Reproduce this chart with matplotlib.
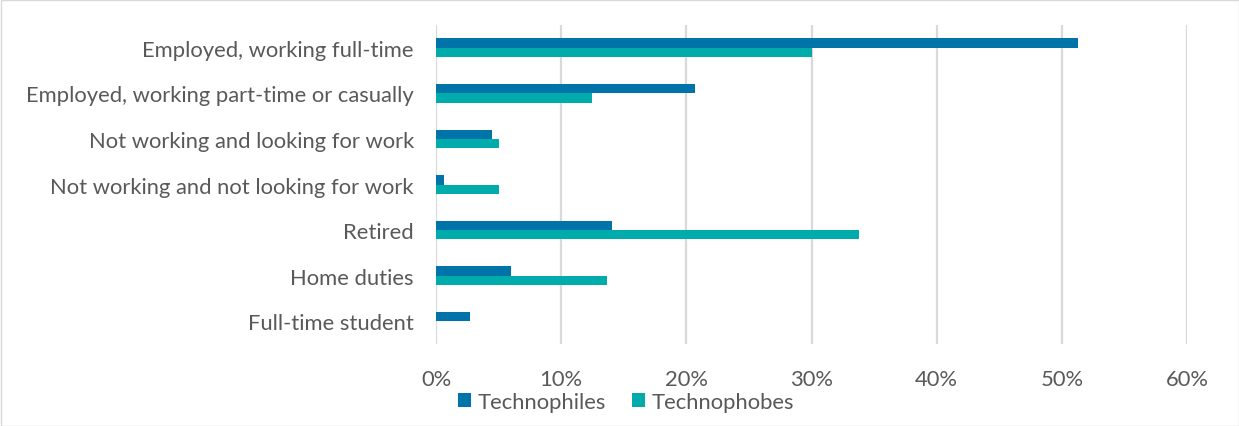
import numpy as np
import matplotlib
matplotlib.use("Agg")
import matplotlib.pyplot as plt
from matplotlib.patches import Rectangle
from matplotlib.ticker import FuncFormatter

plt.rcParams['font.family'] = ['Lato', 'DejaVu Sans']

# Data
categories = [
    "Employed, working full-time",
    "Employed, working part-time or casually",
    "Not working and looking for work",
    "Not working and not looking for work",
    "Retired",
    "Home duties",
    "Full-time student",
]
technophiles = [51.3, 20.7, 4.5, 0.6, 14.1, 6.0, 2.7]
technophobes = [30.0, 12.5, 5.0, 5.0, 33.8, 13.7, 0.0]
xticks = [0, 10, 20, 30, 40, 50, 60]

c_philes = '#0073A8'
c_phobes = '#00ABAB'
text_col = '#595959'

fig = plt.figure(figsize=(12.39, 4.27), dpi=100)
ax = fig.add_axes([436 / 1239, 1 - 345 / 427, (1187 - 436) / 1239, 319 / 427])

y = np.arange(len(categories))
h = 0.205
ax.barh(y - h / 2, technophiles, height=h, color=c_philes, label='Technophiles', zorder=3)
ax.barh(y + h / 2, technophobes, height=h, color=c_phobes, label='Technophobes', zorder=3)

ax.set_xlim(0, 60)
ax.set_ylim(len(categories) - 0.5, -0.5)
ax.set_xticks(xticks)
ax.xaxis.set_major_formatter(FuncFormatter(lambda v, p: f"{v:.0f}%"))
ax.set_yticks(y)
ax.set_yticklabels(categories)
ax.tick_params(axis='both', length=0, labelsize=15.8, colors=text_col)
ax.tick_params(axis='y', pad=16)
ax.tick_params(axis='x', pad=18)
ax.grid(axis='x', color='#D9D9D9', linewidth=1.6, zorder=0)
for s in ax.spines.values():
    s.set_visible(False)

fig.legend(loc='center', bbox_to_anchor=(626 / 1239, 1 - 403 / 427), ncol=2,
           frameon=False, fontsize=15.8, labelcolor=text_col,
           handlelength=0.6, handleheight=0.6, handletextpad=0.3, columnspacing=1.2)

fig.patches.append(Rectangle((0.5 / 1239, 0.5 / 427), 1 - 1 / 1239, 1 - 1 / 427,
                             transform=fig.transFigure, fill=False,
                             edgecolor='#D9D9D9', linewidth=1))

fig.savefig('out.png', dpi=100)
